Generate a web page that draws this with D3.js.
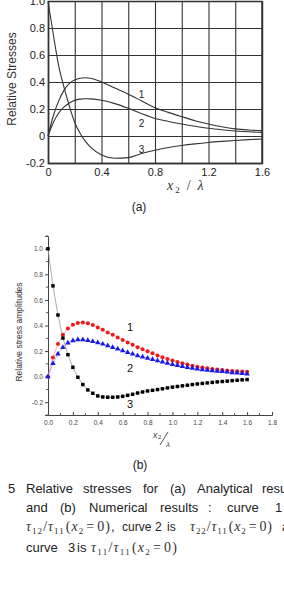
<!DOCTYPE html>
<html>
<head>
<meta charset="utf-8">
<script src="https://cdn.jsdelivr.net/npm/d3@7"></script>
<style>
  body { margin: 0; background: #fff; }
  svg { display: block; }
  text { font-family: "Liberation Sans", Arial, sans-serif; }
</style>
</head>
<body>
<div id="fig"></div>
<script>
var W = 284, H = 590;

// ---- (a) analytical curves ----
var xA = [0, 0.04, 0.08, 0.12, 0.16, 0.2, 0.24, 0.28, 0.32, 0.4, 0.5, 0.6, 0.7, 0.8, 0.9, 1.0, 1.1, 1.2, 1.3, 1.4, 1.5, 1.6];
var curveA1 = [0, 0.15, 0.26, 0.34, 0.39, 0.415, 0.428, 0.432, 0.428, 0.40, 0.355, 0.31, 0.26, 0.21, 0.175, 0.143, 0.113, 0.089, 0.068, 0.053, 0.045, 0.04];
var curveA2 = [0, 0.1, 0.17, 0.215, 0.245, 0.264, 0.273, 0.276, 0.275, 0.265, 0.24, 0.205, 0.165, 0.13, 0.108, 0.089, 0.072, 0.057, 0.046, 0.037, 0.031, 0.027];
var curveA3 = [1.0, 0.75, 0.52, 0.36, 0.22, 0.1, 0.02, -0.04, -0.085, -0.14, -0.165, -0.16, -0.13, -0.105, -0.085, -0.07, -0.058, -0.048, -0.04, -0.033, -0.027, -0.022];
var gridXA = [0, 0.2, 0.4, 0.6, 0.8, 1.0, 1.2, 1.4, 1.6];
var labelXA = [0, 0.4, 0.8, 1.2, 1.6];
var gridYA = [-0.2, 0, 0.2, 0.4, 0.6, 0.8, 1.0];
var curveNames = ["1", "2", "3"];
var labelYA = [0.28, 0.067, -0.126];   // label baselines in data units, at x = 0.7

// ---- (b) numerical results ----
var xB = [0, 0.04, 0.08, 0.12, 0.16, 0.2, 0.24, 0.28, 0.32, 0.36, 0.4, 0.44, 0.48, 0.52, 0.56, 0.6, 0.64, 0.68, 0.72, 0.76, 0.8,
          0.84, 0.88, 0.92, 0.96, 1.0, 1.04, 1.08, 1.12, 1.16, 1.2, 1.24, 1.28, 1.32, 1.36, 1.4, 1.44, 1.48, 1.52, 1.56, 1.6];
var redB = [0, 0.15, 0.255, 0.328, 0.377, 0.406, 0.42, 0.424, 0.417, 0.404, 0.385, 0.367, 0.346, 0.328, 0.307, 0.286, 0.268, 0.25, 0.229, 0.214, 0.198,
            0.182, 0.166, 0.152, 0.138, 0.126, 0.115, 0.104, 0.094, 0.085, 0.078, 0.071, 0.065, 0.06, 0.056, 0.052, 0.048, 0.045, 0.042, 0.04, 0.038];
var blueB = [0, 0.104, 0.177, 0.229, 0.263, 0.281, 0.289, 0.289, 0.284, 0.276, 0.266, 0.255, 0.242, 0.229, 0.216, 0.203, 0.19, 0.177, 0.165, 0.155, 0.144,
             0.134, 0.125, 0.115, 0.105, 0.096, 0.088, 0.08, 0.072, 0.066, 0.06, 0.055, 0.05, 0.046, 0.043, 0.04, 0.036, 0.032, 0.029, 0.025, 0.022];
var blackB = [1.0, 0.71, 0.482, 0.302, 0.172, 0.073, -0.005, -0.062, -0.104, -0.13, -0.151, -0.159, -0.161, -0.161, -0.159, -0.154, -0.146, -0.138, -0.128, -0.12, -0.112,
              -0.107, -0.101, -0.095, -0.088, -0.082, -0.077, -0.072, -0.067, -0.062, -0.057, -0.053, -0.049, -0.045, -0.041, -0.038, -0.035, -0.031, -0.028, -0.025, -0.023];
var ticksXB = [0, 0.2, 0.4, 0.6, 0.8, 1.0, 1.2, 1.4, 1.6, 1.8];
var minorXB = [0.1, 0.3, 0.5, 0.7, 0.9, 1.1, 1.3, 1.5, 1.7];
var ticksYB = [-0.2, 0, 0.2, 0.4, 0.6, 0.8, 1.0];
var minorYB = [-0.3, -0.1, 0.1, 0.3, 0.5, 0.7, 0.9, 1.1];
var labelYB = [0.39, 0.067, -0.214];   // label centres in data units

var svg = d3.select("#fig").append("svg")
    .attr("width", W)
    .attr("height", H);

// ================= (a) =================
var xa = d3.scaleLinear().domain([0, 1.6]).range([48, 262]);
var ya = d3.scaleLinear().domain([-0.2, 1.0]).range([163, 1]);
var ga = svg.append("g");

var gx = ga.append("g")
    .attr("transform", "translate(0,163)")
    .call(d3.axisBottom(xa).tickValues(gridXA).tickSize(-162)
      .tickFormat(function(d) { return labelXA.indexOf(d) >= 0 ? (d === 0 ? "0" : d3.format(".1f")(d)) : ""; }));
var gy = ga.append("g")
    .attr("transform", "translate(48,0)")
    .call(d3.axisLeft(ya).tickValues(gridYA).tickSize(-214)
      .tickFormat(function(d) { return d === 0 ? "0" : d3.format(".1f")(d).replace("−", "-"); }));
[gx, gy].forEach(function(g) {
  g.select(".domain").attr("stroke", "#333").attr("stroke-width", 1.4);
  g.selectAll(".tick line").attr("stroke", "#333").attr("stroke-width", 1.1);
  g.selectAll(".tick text").attr("fill", "#222").style("font-size", "11px");
});
gx.selectAll(".tick text").attr("dy", "0.9em");
gy.selectAll(".tick text").attr("x", -3);
ga.append("line").attr("x1", 262).attr("x2", 262).attr("y1", 1).attr("y2", 163)
  .attr("stroke", "#333").attr("stroke-width", 1.4);

var lineA = d3.line().x(function(d) { return xa(d[0]); }).y(function(d) { return ya(d[1]); }).curve(d3.curveMonotoneX);
[curveA1, curveA2, curveA3].forEach(function(c) {
  ga.append("path")
    .attr("d", lineA(xA.map(function(x, i) { return [x, c[i]]; })))
    .attr("fill", "none").attr("stroke", "#333").attr("stroke-width", 1.1);
});
curveNames.forEach(function(n, i) {
  ga.append("text").attr("x", xa(0.7)).attr("y", ya(labelYA[i])).text(n)
    .attr("text-anchor", "middle").style("font-size", "10px").attr("fill", "#222");
});

ga.append("text")
  .attr("transform", "translate(16,79) rotate(-90)")
  .attr("text-anchor", "middle").style("font-size", "12px").attr("fill", "#333")
  .text("Relative Stresses");

var xt = ga.append("text").attr("x", 167).attr("y", 190)
  .style("font-family", "'Liberation Serif', serif").style("font-size", "14px").attr("fill", "#333");
xt.append("tspan").style("font-style", "italic").text("x");
xt.append("tspan").attr("dx", 2).attr("dy", 3).style("font-size", "9px").text("2");
xt.append("tspan").attr("dx", 7).attr("dy", -3).text("/");
xt.append("tspan").attr("dx", 7).style("font-style", "italic").text("λ");

svg.append("text").attr("x", 139).attr("y", 211).attr("text-anchor", "middle")
  .style("font-size", "12px").attr("fill", "#222").text("(a)");

// ================= (b) =================
var xb = d3.scaleLinear().domain([0, 1.8]).range([48, 272]);
var yb = d3.scaleLinear().domain([-0.3, 1.1]).range([415, 236]);
var gb = svg.append("g");

var bx = gb.append("g").attr("transform", "translate(0,415)")
  .call(d3.axisBottom(xb).tickValues(ticksXB).tickSize(-3).tickPadding(5).tickFormat(d3.format(".1f")));
bx.append("g").selectAll("line").data(minorXB).join("line")
  .attr("x1", function(d) { return xb(d); }).attr("x2", function(d) { return xb(d); })
  .attr("y1", 0).attr("y2", -2).attr("stroke", "#555");
var by = gb.append("g").attr("transform", "translate(48,0)")
  .call(d3.axisLeft(yb).tickValues(ticksYB).tickSize(3).tickPadding(2).tickFormat(function(d) { return d3.format(".1f")(d).replace("−", "-"); }));
by.append("g").selectAll("line").data(minorYB).join("line")
  .attr("y1", function(d) { return yb(d); }).attr("y2", function(d) { return yb(d); })
  .attr("x1", 0).attr("x2", -2).attr("stroke", "#555");
[bx, by].forEach(function(g) {
  g.select(".domain").attr("stroke", "#444").attr("stroke-width", 1);
  g.selectAll(".tick line").attr("stroke", "#444");
  g.selectAll(".tick text").attr("fill", "#444").style("font-size", "6.5px");
});

var lineB = d3.line().x(function(d) { return xb(d[0]); }).y(function(d) { return yb(d[1]); });
function pts(c) { return xB.map(function(x, i) { return [x, c[i]]; }); }
gb.append("path").attr("d", lineB(pts(redB))).attr("fill", "none").attr("stroke", "#f3a0a0").attr("stroke-width", 0.8);
gb.append("path").attr("d", lineB(pts(blueB))).attr("fill", "none").attr("stroke", "#a0a0f3").attr("stroke-width", 0.8);
gb.append("path").attr("d", lineB(pts(blackB))).attr("fill", "none").attr("stroke", "#999").attr("stroke-width", 0.8);

gb.append("g").selectAll("circle").data(pts(redB)).join("circle")
  .attr("cx", function(d) { return xb(d[0]); }).attr("cy", function(d) { return yb(d[1]); })
  .attr("r", 2).attr("fill", "#f01818");
gb.append("g").selectAll("path").data(pts(blueB)).join("path")
  .attr("d", d3.symbol().type(d3.symbolTriangle).size(13))
  .attr("transform", function(d) { return "translate(" + xb(d[0]) + "," + yb(d[1]) + ")"; })
  .attr("fill", "#1a1ae8");
gb.append("g").selectAll("path").data(pts(blackB)).join("path")
  .attr("d", d3.symbol().type(d3.symbolSquare).size(12))
  .attr("transform", function(d) { return "translate(" + xb(d[0]) + "," + yb(d[1]) + ")"; })
  .attr("fill", "#000");

curveNames.forEach(function(n, i) {
  gb.append("text").attr("x", 130).attr("y", yb(labelYB[i]) + 4).attr("text-anchor", "middle")
    .style("font-size", "11px").attr("fill", "#111").text(n);
});

gb.append("text")
  .attr("transform", "translate(22,332) rotate(-90)")
  .attr("text-anchor", "middle").style("font-size", "8.5px").attr("fill", "#333")
  .text("Relative stress amplitudes");

var fx = gb.append("g").style("font-family", "'Liberation Serif', serif").attr("fill", "#444");
fx.append("text").attr("x", 153).attr("y", 438).style("font-style", "italic").style("font-size", "9px").text("x");
fx.append("text").attr("x", 158).attr("y", 439).style("font-size", "6px").text("2");
fx.append("line").attr("x1", 160).attr("y1", 445).attr("x2", 168).attr("y2", 432).attr("stroke", "#555").attr("stroke-width", 1);
fx.append("text").attr("x", 166).attr("y", 447).style("font-style", "italic").style("font-size", "8px").text("λ");

svg.append("text").attr("x", 140).attr("y", 469).attr("text-anchor", "middle")
  .style("font-size", "12px").attr("fill", "#222").text("(b)");

// ================= caption =================
var cap = svg.append("g").style("font-size", "13px").attr("fill", "#222");
function word(x, y, s, size) {
  var t = cap.append("text").attr("x", x).attr("y", y).text(s);
  if (size) t.style("font-size", size);
}
function math(x, y, a, b, w) {
  var t = cap.append("text").attr("x", x).attr("y", y)
    .style("font-family", "'Liberation Serif', serif").style("font-size", "14px").attr("fill", "#333");
  t.append("tspan").style("font-style", "italic").text("τ");
  t.append("tspan").attr("dy", 3).style("font-size", "9px").text(a);
  t.append("tspan").attr("dy", -3).text("/");
  t.append("tspan").style("font-style", "italic").text("τ");
  t.append("tspan").attr("dy", 3).style("font-size", "9px").text(b);
  t.append("tspan").attr("dy", -3).attr("dx", 1).text("(");
  t.append("tspan").style("font-style", "italic").text("x");
  t.append("tspan").attr("dy", 3).style("font-size", "9px").text("2");
  t.append("tspan").attr("dy", -3).attr("dx", 2).text("=");
  t.append("tspan").attr("dx", 2).text("0)");
  if (w) t.attr("textLength", w).attr("lengthAdjust", "spacing");
}
word(8, 493, "5");
word(26, 493, "Relative"); word(83, 493, "stresses"); word(143, 493, "for");
word(170, 493, "(a)"); word(197, 493, "Analytical"); word(262, 493, "results");
word(26, 512, "and"); word(60, 512, "(b)"); word(89, 512, "Numerical");
word(160, 512, "results"); word(208, 512, ":"); word(227, 512, "curve"); word(275, 512, "1");
math(26, 531, "12", "11", 84); word(111, 531, ",");
word(122, 531, "curve", "12px"); word(155, 531, "2", "12px"); word(167, 531, "is", "12px");
math(190, 531, "22", "11", 82); word(282, 531, "and");
word(26, 552, "curve"); word(68, 552, "3"); word(77, 552, "is");
math(91, 552, "11", "11", 86);
</script>
</body>
</html>
